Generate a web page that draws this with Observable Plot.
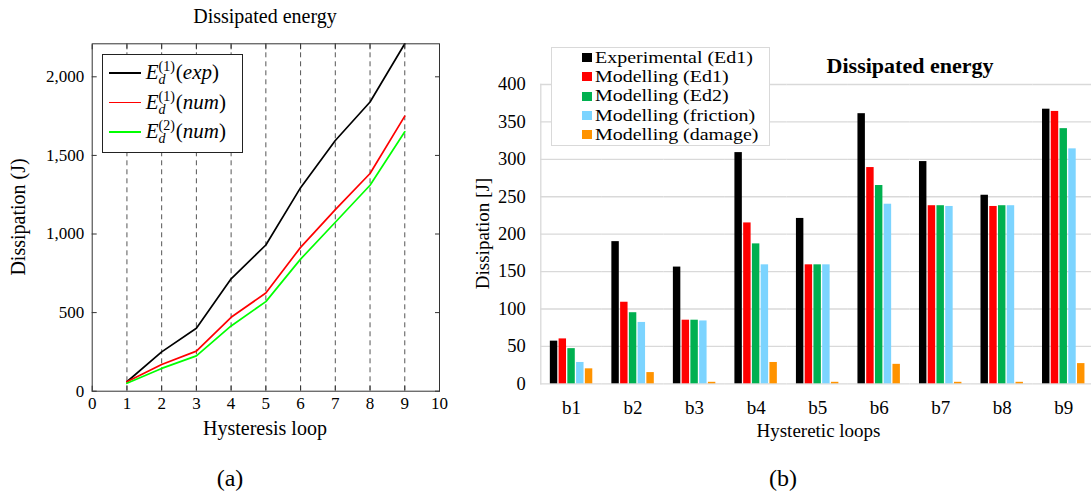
<!DOCTYPE html>
<html><head><meta charset="utf-8">
<script src="https://cdn.jsdelivr.net/npm/d3@7"></script>
<script src="https://cdn.jsdelivr.net/npm/@observablehq/plot@0.6"></script>
<style>
html,body{margin:0;padding:0;background:#fff;}
body{width:1091px;height:493px;overflow:hidden;position:relative;font-family:"Liberation Serif","Times New Roman",serif;color:#000;}
.abs{position:absolute;white-space:nowrap;}
.ss{display:inline-flex;flex-direction:column;vertical-align:8px;font-size:14px;line-height:13px;font-style:normal;margin:0 1px 0 0;}
.ss span{display:block;}
</style></head><body>
<div id="left" class="abs" style="left:0;top:0;"></div>
<div id="right" class="abs" style="left:460px;top:0;width:634px;"></div>
<script>
// ---------- Left chart data (a) ----------
const loops = [1, 2, 3, 4, 5, 6, 7, 8, 9];
const expCum = [60, 250, 400, 715, 930, 1295, 1595, 1840, 2210];
const num1Cum = [60, 170, 255, 470, 625, 915, 1155, 1385, 1750];
const num2Cum = [50, 145, 225, 415, 570, 840, 1075, 1310, 1650];
const leftSeriesKeys = ["exp1", "num1", "num2"];
const leftSup = ["(1)", "(1)", "(2)"];
const leftArg = ["exp", "num", "num"];
const leftColors = ["#000000", "#ff0000", "#00ff00"];
const leftXTicks = [0, 1, 2, 3, 4, 5, 6, 7, 8, 9, 10];
const leftYTicks = [0, 500, 1000, 1500, 2000];

// ---------- Right chart data (b) ----------
const groups = ["b1", "b2", "b3", "b4", "b5", "b6", "b7", "b8", "b9"];
const seriesNames = ["Experimental (Ed1)", "Modelling (Ed1)", "Modelling (Ed2)", "Modelling (friction)", "Modelling (damage)"];
const expEd1 = [57, 190, 156, 309, 221, 361, 297, 252, 367];
const modEd1 = [60, 109, 85, 215, 159, 289, 238, 237, 364];
const modEd2 = [47, 95, 85, 187, 159, 265, 238, 238, 341];
const modFriction = [28.5, 82, 84, 159, 159, 240, 237, 238, 314];
const modDamage = [20, 15, 2, 28.5, 2, 26, 2, 2, 27];
const seriesColors = ["#000000", "#ff0000", "#00b050", "#7cd4ff", "#ff9300"];
const rightYTicks = [0, 50, 100, 150, 200, 250, 300, 350, 400];

// ---------- Left chart ----------
const leftVals = [expCum, num1Cum, num2Cum];
const leftRows = leftSeriesKeys.flatMap((k, j) => loops.map((l, i) => ({loop: l, value: leftVals[j][i], series: k})));
const leftPlot = Plot.plot({
  width: 460, height: 445,
  marginLeft: 91.7, marginRight: 21, marginTop: 43.3, marginBottom: 54.3,
  style: {fontFamily: "Liberation Serif, serif", fontSize: "17px", background: "transparent", color: "#000"},
  x: {domain: [0, 10]},
  y: {domain: [0, 2210]},
  color: {domain: leftSeriesKeys, range: leftColors},
  marks: [
    Plot.ruleX(loops, {stroke: "#555", strokeWidth: 1, strokeDasharray: "5,4"}),
    Plot.line(leftRows, {x: "loop", y: "value", z: "series", stroke: "series", strokeWidth: 1.7}),
    Plot.frame({stroke: "#333", strokeWidth: 1}),
    Plot.axisX(leftXTicks, {anchor: "bottom", tickSize: 0, tickPadding: 6, fontSize: 17, label: null}),
    Plot.axisX(leftXTicks, {anchor: "bottom", tickSize: 5, dy: -5, fill: "none", stroke: "#333", label: null}),
    Plot.axisX(leftXTicks, {anchor: "top", tickSize: 5, dy: 5, fill: "none", stroke: "#333", label: null}),
    Plot.axisY(leftYTicks, {anchor: "left", tickSize: 0, tickPadding: 8, fontSize: 17, tickFormat: d3.format(","), label: null}),
    Plot.axisY(leftYTicks, {anchor: "left", tickSize: 5, dx: 5, fill: "none", stroke: "#333", label: null}),
    Plot.axisY(leftYTicks, {anchor: "right", tickSize: 5, dx: -5, fill: "none", stroke: "#333", label: null})
  ]
});
document.getElementById("left").appendChild(leftPlot);

// ---------- Right chart ----------
const rightVals = [expEd1, modEd1, modEd2, modFriction, modDamage];
const rightRows = groups.flatMap((g, i) => seriesNames.map((s, j) => ({group: g, series: s, value: rightVals[j][i]})));
const rightPlot = Plot.plot({
  width: 634, height: 445,
  marginLeft: 80.3, marginRight: 0, marginTop: 84, marginBottom: 61.7,
  style: {fontFamily: "Liberation Serif, serif", fontSize: "18px", background: "transparent", color: "#000"},
  fx: {domain: groups, padding: 0, round: false, label: null},
  x: {domain: seriesNames, paddingInner: 0.15, paddingOuter: 1.09, round: false, axis: null},
  y: {domain: [0, 400], label: null},
  color: {domain: seriesNames, range: seriesColors},
  marks: [
    Plot.gridY(rightYTicks, {stroke: "#d9d9d9", strokeOpacity: 1, strokeWidth: 1.3}),
    Plot.frame({anchor: "left", facetAnchor: "left", stroke: "#d9d9d9", strokeWidth: 1.3}),
    Plot.barY(rightRows, {fx: "group", x: "series", y: "value", fill: "series"}),
    Plot.axisY(rightYTicks, {anchor: "left", tickSize: 0, tickPadding: 15, fontSize: 18.5, label: null}),
    Plot.axisFx({anchor: "bottom", tickSize: 0, tickPadding: 17, fontSize: 19, label: null})
  ]
});
document.getElementById("right").appendChild(rightPlot);

// ---------- Text helpers ----------
function hText(text, cx, baseline, fs, extra) {
  const d = document.createElement("div");
  d.className = "abs";
  d.textContent = text;
  const W = 400;
  Object.assign(d.style, {left: (cx - W / 2) + "px", top: (baseline - 0.8375 * fs) + "px", width: W + "px",
    textAlign: "center", fontSize: fs + "px", lineHeight: fs + "px"}, extra || {});
  document.body.appendChild(d);
}
function vText(text, cx, cy, fs) {
  const d = document.createElement("div");
  d.className = "abs";
  d.textContent = text;
  const W = 300;
  Object.assign(d.style, {left: (cx - W / 2) + "px", top: (cy - fs / 2) + "px", width: W + "px", height: fs + "px",
    textAlign: "center", fontSize: fs + "px", lineHeight: fs + "px", transform: "rotate(-90deg)"});
  document.body.appendChild(d);
}

// Left texts
hText("Dissipated energy", 265, 22.7, 20);
hText("Hysteresis loop", 265, 435, 20);
vText("Dissipation (J)", 18.3, 216.7, 20);
hText("(a)", 230, 486, 24);

// Right texts
hText("Dissipated energy", 910, 73.3, 22, {fontWeight: "bold"});
hText("Hysteretic loops", 818.5, 437.3, 19);
vText("Dissipation [J]", 482, 233, 19);
hText("(b)", 783, 486, 24);

// Left legend
const legL = document.createElement("div");
legL.className = "abs";
Object.assign(legL.style, {left: "102.3px", top: "54.3px", width: "139px", height: "94.4px", border: "1px solid #222",
  background: "#fff", paddingTop: "2.5px", boxSizing: "content-box"});
leftSeriesKeys.forEach((k, j) => {
  const row = document.createElement("div");
  Object.assign(row.style, {height: "29.8px", display: "flex", alignItems: "center"});
  const ln = document.createElement("span");
  Object.assign(ln.style, {display: "inline-block", width: "31.4px", height: "1.8px", background: leftColors[j], marginLeft: "6px", marginRight: "5px"});
  const tx = document.createElement("span");
  Object.assign(tx.style, {fontSize: "21px", lineHeight: "29.8px", height: "29.8px", display: "inline-block"});
  tx.innerHTML = '<i>E</i><span class="ss"><span>' + leftSup[j] + '</span><span><i>d</i></span></span>(<i>' + leftArg[j] + '</i>)';
  row.appendChild(ln); row.appendChild(tx);
  legL.appendChild(row);
});
document.body.appendChild(legL);

// Right legend
const legR = document.createElement("div");
legR.className = "abs";
Object.assign(legR.style, {left: "550.7px", top: "46.7px", width: "217px", height: "97px", border: "1px solid #d9d9d9",
  background: "#fff", fontSize: "17.5px"});
seriesNames.forEach((s, j) => {
  const row = document.createElement("div");
  Object.assign(row.style, {height: "19.4px", display: "flex", alignItems: "center", lineHeight: "19.4px"});
  const sw = document.createElement("span");
  Object.assign(sw.style, {display: "inline-block", width: "10px", height: "9px", background: seriesColors[j], marginLeft: "30px", marginRight: "3px", flex: "none"});
  const tx = document.createElement("span");
  Object.assign(tx.style, {display: "inline-block", transform: "scaleX(1.14)", transformOrigin: "left center"});
  tx.textContent = s;
  row.appendChild(sw); row.appendChild(tx);
  legR.appendChild(row);
});
document.body.appendChild(legR);
</script>
</body></html>
